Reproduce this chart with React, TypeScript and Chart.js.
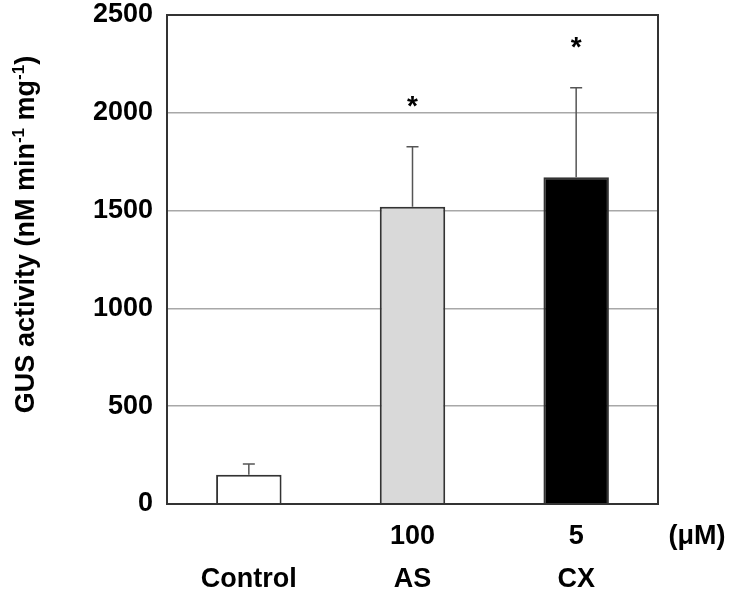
import React, { useEffect, useRef } from "react";
import { Chart, registerables } from "chart.js";

Chart.register(...registerables);

const categories = ["Control", "AS", "CX"];
const doseLabels = ["", "100", "5"];
const doseUnit = "(μM)";
const means = [150, 1520, 1670];
const errors = [55, 307, 458];
const significance = ["", "*", "*"];
const barColors = ["#ffffff", "#d9d9d9", "#000000"];
const yMin = 0;
const yMax = 2500;
const yStep = 500;
// y-axis title pieces: [text, isSuperscript]
const yTitleParts: [string, boolean][] = [
  ["GUS activity (nM min", false],
  ["-1", true],
  [" mg", false],
  ["-1", true],
  [")", false],
];

const FONT = "'Liberation Sans', Arial, Helvetica, sans-serif";

const extrasPlugin = {
  id: "extras",
  afterDatasetsDraw(chart: any) {
    const ctx = chart.ctx;
    const meta = chart.getDatasetMeta(0);
    const yScale = chart.scales.y;
    const area = chart.chartArea;
    ctx.save();
    meta.data.forEach((bar: any, i: number) => {
      const x = bar.x;
      const yv = yScale.getPixelForValue(means[i]);
      const ye = yScale.getPixelForValue(means[i] + errors[i]);
      ctx.strokeStyle = "#555";
      ctx.lineWidth = 1.5;
      ctx.beginPath();
      ctx.moveTo(x, yv);
      ctx.lineTo(x, ye);
      ctx.moveTo(x - 6, ye);
      ctx.lineTo(x + 6, ye);
      ctx.stroke();
      if (significance[i]) {
        ctx.fillStyle = "#000";
        ctx.font = `bold 28px ${FONT}`;
        ctx.textAlign = "center";
        ctx.textBaseline = "middle";
        ctx.fillText(significance[i], x, ye - 39);
      }
    });
    ctx.strokeStyle = "#333";
    ctx.lineWidth = 2;
    ctx.strokeRect(area.left, area.top, area.right - area.left, area.bottom - area.top);
    const xScale = chart.scales.x;
    ctx.fillStyle = "#000";
    ctx.font = `bold 27px ${FONT}`;
    ctx.textAlign = "center";
    ctx.textBaseline = "middle";
    ctx.fillText(doseUnit, area.right + 39, xScale.top + 11 + 21.5);

    // rotated y-axis title with superscripts
    const mainFont = `bold 27px ${FONT}`;
    const supFont = `bold 17px ${FONT}`;
    let total = 0;
    yTitleParts.forEach(([t, sup]) => {
      ctx.font = sup ? supFont : mainFont;
      total += ctx.measureText(t).width;
    });
    const cy = (area.top + area.bottom) / 2 - 25;
    ctx.translate(34, cy);
    ctx.rotate(-Math.PI / 2);
    ctx.textAlign = "left";
    ctx.textBaseline = "alphabetic";
    let pos = -total / 2;
    yTitleParts.forEach(([t, sup]) => {
      ctx.font = sup ? supFont : mainFont;
      ctx.fillText(t, pos, sup ? -10 : 0);
      pos += ctx.measureText(t).width;
    });
    ctx.restore();
  },
};

export default function App() {
  const ref = useRef<HTMLCanvasElement | null>(null);
  useEffect(() => {
    if (!ref.current) return;
    const chart = new Chart(ref.current, {
      type: "bar",
      data: {
        labels: categories.map((c, i) => [doseLabels[i], c]),
        datasets: [
          {
            data: means,
            backgroundColor: barColors,
            borderColor: "#333",
            borderWidth: 2,
            barPercentage: 0.4,
            categoryPercentage: 1,
          },
        ],
      },
      options: {
        animation: false,
        responsive: true,
        maintainAspectRatio: false,
        layout: { padding: { top: 15, right: 75, left: 0, bottom: 0 } },
        plugins: { legend: { display: false }, tooltip: { enabled: false } },
        scales: {
          x: {
            grid: { display: false, drawTicks: false },
            border: { color: "#333", width: 2 },
            ticks: {
              color: "#000",
              padding: 11,
              font: { family: FONT, size: 27, weight: "bold", lineHeight: 43 / 27 },
              maxRotation: 0,
              autoSkip: false,
            },
            afterFit(scale: any) {
              scale.height = 94;
              scale.paddingLeft = 0;
              scale.paddingRight = 0;
            },
          },
          y: {
            min: yMin,
            max: yMax,
            grid: { color: "#a8a8a8", lineWidth: 1.5, drawTicks: false },
            border: { color: "#333", width: 2 },
            ticks: {
              stepSize: yStep,
              color: "#000",
              padding: 14,
              font: { family: FONT, size: 27, weight: "bold", lineHeight: 1.1 },
              callback: (v: any) => String(v),
            },
            title: { display: false },
            afterFit(scale: any) {
              scale.width = 167;
              scale.paddingTop = 0;
              scale.paddingBottom = 0;
            },
          },
        },
      },
      plugins: [extrasPlugin],
    });
    return () => chart.destroy();
  }, []);
  return (
    <div style={{ position: "absolute", left: 0, top: 0, width: 733, height: 598, background: "#fff" }}>
      <canvas ref={ref} />
    </div>
  );
}
